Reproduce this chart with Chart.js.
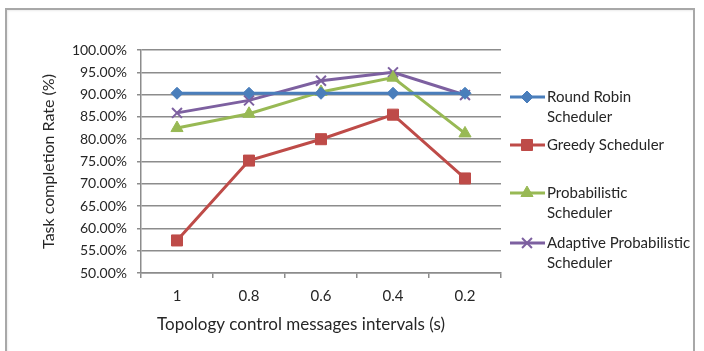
<!DOCTYPE html>
<html>
<head>
<meta charset="utf-8">
<script src="https://cdn.jsdelivr.net/npm/chart.js@4.4.1/dist/chart.umd.min.js"></script>
<style>
  html, body { margin: 0; padding: 0; background: #fff; }
  #wrap { position: relative; width: 704px; height: 351px; overflow: hidden; }
  #frame {
    position: absolute; left: 5px; top: 8px; width: 690px; height: 400px;
    border: 2px solid #a8a8a8; box-sizing: border-box;
    box-shadow: inset 1px 1px 2px rgba(0,0,0,0.08);
  }
  canvas { position: absolute; left: 0; top: 0; }
</style>
</head>
<body>
<div id="wrap">
  <div id="frame"></div>
  <canvas id="c" width="704" height="351"></canvas>
</div>
<script>
// Topology control message interval (s) on the x axis
const intervals = ['1', '0.8', '0.6', '0.4', '0.2'];

// Task completion rate (%) per scheduler
const roundRobin    = [90.3, 90.3, 90.3, 90.3, 90.3];
const greedy        = [57.3, 75.2, 80.0, 85.5, 71.2];
const probabilistic = [82.5, 85.7, 90.6, 93.8, 81.3];
const adaptive      = [85.9, 88.7, 93.1, 95.0, 89.9];

// Legend text, one entry per series, split into lines
const legendLines = [
  ['Round Robin', 'Scheduler'],
  ['Greedy Scheduler'],
  ['Probabilistic', 'Scheduler'],
  ['Adaptive Probabilistic', 'Scheduler']
];

const xTitle = 'Topology control messages intervals (s)';

const FONT = 'Lato, "Open Sans", sans-serif';
const TEXT = '#262626';

function series(label, data, color, style, radius, bw) {
  return {
    label, data,
    borderColor: color, backgroundColor: color,
    pointBackgroundColor: color, pointBorderColor: color,
    borderWidth: 3, pointStyle: style, pointRadius: radius,
    pointHoverRadius: radius, pointBorderWidth: bw, tension: 0
  };
}

// Side legend (line sample with marker, then wrapped text) and x-axis title
const sideLegend = {
  id: 'sideLegend',
  afterDraw(chart) {
    const ctx = chart.ctx;
    const rows = [97, 145, 193, 243];
    ctx.save();
    chart.data.datasets.forEach((ds, i) => {
      const y = rows[i];
      ctx.strokeStyle = ds.borderColor;
      ctx.lineWidth = 3;
      ctx.beginPath();
      ctx.moveTo(510, y);
      ctx.lineTo(545, y);
      ctx.stroke();
      ctx.fillStyle = ds.backgroundColor;
      ctx.lineWidth = ds.pointBorderWidth;
      Chart.helpers.drawPoint(ctx, {
        pointStyle: ds.pointStyle, radius: ds.pointRadius, borderWidth: ds.pointBorderWidth, rotation: 0
      }, 527, y);
      ctx.fillStyle = TEXT;
      ctx.font = '15px ' + FONT;
      ctx.textBaseline = 'middle';
      ctx.textAlign = 'left';
      legendLines[i].forEach((t, k) => ctx.fillText(t, 547, y + k * 20));
    });
    ctx.font = '17px ' + FONT;
    ctx.textAlign = 'center';
    ctx.textBaseline = 'middle';
    ctx.fillStyle = TEXT;
    ctx.fillText(xTitle, 301, 325);
    ctx.restore();
  }
};

new Chart(document.getElementById('c'), {
  type: 'line',
  data: {
    labels: intervals,
    datasets: [
      series('Round Robin Scheduler', roundRobin, '#4a7ebb', 'rectRot', 6, 1),
      series('Greedy Scheduler', greedy, '#be4b48', 'rect', 7.8, 1),
      series('Probabilistic Scheduler', probabilistic, '#98b954', 'triangle', 7, 1),
      series('Adaptive Probabilistic Scheduler', adaptive, '#7d60a0', 'crossRot', 7, 2)
    ]
  },
  options: {
    responsive: false,
    animation: false,
    layout: { padding: { left: 0, right: 203, top: 50, bottom: 0 } },
    plugins: { legend: { display: false }, tooltip: { enabled: false } },
    scales: {
      x: {
        offset: true,
        afterFit: s => { s.height = 78; },
        grid: {
          offset: true, drawOnChartArea: false, drawTicks: true,
          tickLength: 5, color: '#8c8c8c', lineWidth: 1.5
        },
        border: { display: true, color: '#8c8c8c', width: 1.5 },
        ticks: { color: TEXT, font: { family: FONT, size: 15 }, padding: 9, maxRotation: 0 },
        title: { display: false }
      },
      y: {
        min: 50, max: 100,
        afterFit: s => { s.width = 141; },
        grid: { color: '#8c8c8c', lineWidth: 1.5, tickLength: 4 },
        border: { display: true, color: '#8c8c8c', width: 1.5 },
        ticks: {
          stepSize: 5, color: TEXT, font: { family: FONT, size: 14 }, padding: 10,
          callback: v => v.toFixed(2) + '%'
        },
        title: {
          display: true, text: 'Task completion Rate (%)',
          color: TEXT, font: { family: FONT, size: 16 }, padding: { top: 39, bottom: 0 }
        }
      }
    }
  },
  plugins: [sideLegend]
});
</script>
</body>
</html>
